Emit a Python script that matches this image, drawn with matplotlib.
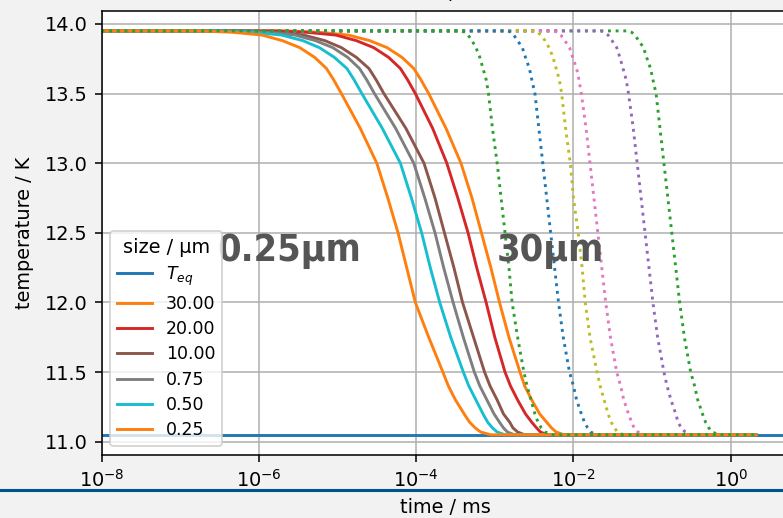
import matplotlib
matplotlib.use("Agg")
import matplotlib.pyplot as plt
import matplotlib.ticker as ticker
from matplotlib.lines import Line2D
import numpy as np

# particle sizes in µm (legend order)
sizes = [30.0, 20.0, 10.0, 0.75, 0.50, 0.25]

T_eq = 11.05     # equilibrium temperature, K
T_start = 13.95  # initial temperature, K

temp_levels = [13.95, 13.94, 13.92, 13.88, 13.83, 13.76, 13.68, 13.6, 13.5, 13.25,
               13.0, 12.75, 12.5, 12.25, 12.0, 11.75, 11.5, 11.4, 11.3, 11.2,
               11.14, 11.1, 11.07, 11.05]
log_t_first = -8.0   # log10(time / ms) at the left edge
log_t_last = 0.32    # log10(time / ms) where the curves end

# log10(time / ms) at each temperature level, solid curves
solid_30 = [-5.65, -5.23, -4.86, -4.59, -4.37, -4.18, -4.03, -3.94, -3.84, -3.62,
            -3.43, -3.29, -3.17, -3.05, -2.94, -2.82, -2.68, -2.62, -2.53, -2.43,
            -2.34, -2.28, -2.22, -2.12]
solid_20 = [-5.81, -5.39, -5.02, -4.76, -4.54, -4.35, -4.20, -4.11, -4.01, -3.79,
            -3.61, -3.47, -3.34, -3.23, -3.11, -3.00, -2.87, -2.80, -2.71, -2.61,
            -2.53, -2.47, -2.42, -2.33]
solid_10 = [-6.22, -5.80, -5.43, -5.16, -4.95, -4.76, -4.60, -4.51, -4.41, -4.13,
            -3.90, -3.76, -3.64, -3.52, -3.41, -3.27, -3.13, -3.06, -2.97, -2.89,
            -2.81, -2.77, -2.71, -2.62]
solid_075 = [-6.33, -5.91, -5.54, -5.28, -5.06, -4.87, -4.72, -4.63, -4.53, -4.26,
             -4.03, -3.89, -3.76, -3.65, -3.53, -3.40, -3.26, -3.19, -3.10, -3.01,
             -2.94, -2.89, -2.84, -2.75]
solid_050 = [-6.50, -6.08, -5.71, -5.44, -5.23, -5.04, -4.88, -4.79, -4.69, -4.43,
             -4.20, -4.06, -3.93, -3.82, -3.70, -3.56, -3.40, -3.33, -3.24, -3.15,
             -3.09, -3.03, -2.97, -2.87]
solid_025 = [-6.75, -6.33, -5.96, -5.70, -5.48, -5.29, -5.14, -5.05, -4.95, -4.71,
             -4.50, -4.36, -4.23, -4.12, -4.01, -3.84, -3.66, -3.59, -3.50, -3.39,
             -3.32, -3.25, -3.18, -3.05]

# same for the dotted curves
dot_30 = [-1.31, -1.26, -1.22, -1.17, -1.11, -1.07, -1.02, -0.99, -0.95, -0.90,
          -0.85, -0.80, -0.75, -0.70, -0.65, -0.59, -0.51, -0.46, -0.42, -0.36,
          -0.32, -0.28, -0.24, -0.14]
dot_20 = [-1.65, -1.60, -1.56, -1.51, -1.45, -1.41, -1.37, -1.33, -1.30, -1.24,
          -1.19, -1.14, -1.09, -1.04, -0.99, -0.93, -0.85, -0.81, -0.76, -0.70,
          -0.67, -0.63, -0.58, -0.50]
dot_10 = [-2.25, -2.20, -2.16, -2.11, -2.05, -2.01, -1.96, -1.93, -1.90, -1.84,
          -1.79, -1.74, -1.69, -1.64, -1.59, -1.53, -1.45, -1.40, -1.36, -1.30,
          -1.26, -1.23, -1.18, -1.10]
dot_075 = [-2.50, -2.45, -2.42, -2.36, -2.31, -2.26, -2.22, -2.18, -2.15, -2.10,
           -2.04, -2.00, -1.94, -1.89, -1.85, -1.79, -1.70, -1.66, -1.61, -1.56,
           -1.52, -1.48, -1.44, -1.36]
dot_050 = [-2.83, -2.79, -2.76, -2.71, -2.65, -2.61, -2.56, -2.53, -2.49, -2.44,
           -2.39, -2.34, -2.29, -2.24, -2.19, -2.13, -2.05, -2.00, -1.96, -1.90,
           -1.86, -1.82, -1.78, -1.71]
dot_025 = [-3.43, -3.38, -3.34, -3.29, -3.24, -3.19, -3.15, -3.11, -3.08, -3.03,
           -2.97, -2.92, -2.87, -2.82, -2.78, -2.71, -2.63, -2.59, -2.54, -2.49,
           -2.45, -2.41, -2.36, -2.26]

solid_curves = [solid_30, solid_20, solid_10, solid_075, solid_050, solid_025]
dotted_curves = [dot_30, dot_20, dot_10, dot_075, dot_050, dot_025]

T_curve = [T_start] + temp_levels + [T_eq]
xticks = [1e-8, 1e-6, 1e-4, 1e-2, 1e0]


def times(log_t):
    return 10.0 ** np.array([log_t_first] + log_t + [log_t_last])


dpi = 139
fig = plt.figure(figsize=(784 / dpi, 518 / dpi), dpi=dpi, facecolor="#f2f2f2")
ax = fig.add_axes([101.5 / 784, 63 / 518, 687.5 / 784, 444.3 / 518])

ax.plot([1e-8, 1e2], [T_eq, T_eq], label="$T_{eq}$")
for s, sol, dot in zip(sizes, solid_curves, dotted_curves):
    ax.plot(times(sol), T_curve, label=f"{s:.2f}")
    ax.plot(times(dot), T_curve, ":", label="_nolegend_")

ax.set_xscale("log")
ax.set_xlim(1e-8, 10 ** 0.74)
ax.set_xticks(xticks)
ax.xaxis.set_minor_locator(ticker.NullLocator())
ax.grid(True)
ax.set_xlabel("time / ms", labelpad=4)
ax.set_ylabel("temperature / K", labelpad=5.5)
ax.legend(title="size / μm", loc="lower left", fontsize=9, labelspacing=0.42)

txt = dict(fontsize=19.5, fontweight="bold", fontstretch="condensed",
           color="#555555", va="center", ha="left")
ax.text(3.0e-7, 12.37, "0.25μm", **txt)
ax.text(1.07e-3, 12.37, "30μm", **txt)

# label cut off at the top, and the bar across the bottom
fig.text(445 / 784, 1 + 1 / 518, "time / ms", ha="center", va="baseline")
fig.add_artist(Line2D([0, 1], [1 - 489.5 / 518] * 2, transform=fig.transFigure,
                      color="#00538a", lw=1.6))

fig.savefig("out.png", dpi=dpi, facecolor=fig.get_facecolor())
